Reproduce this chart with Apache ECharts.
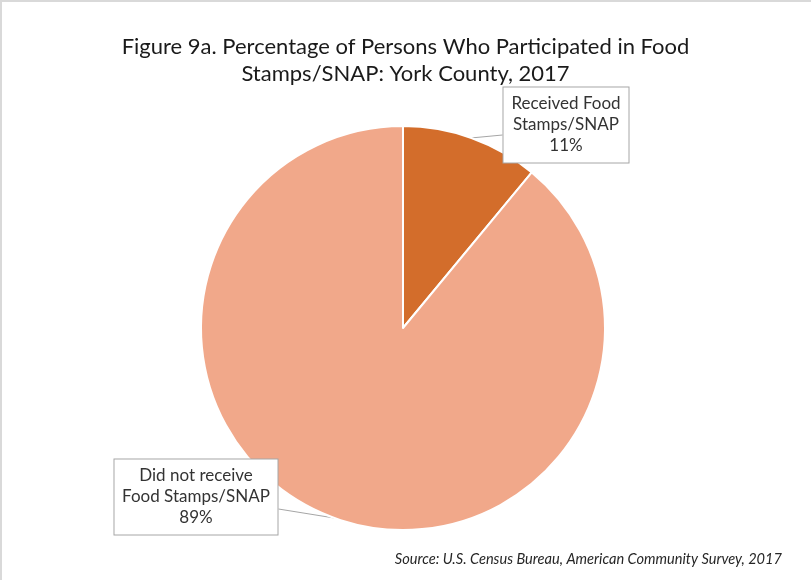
<!DOCTYPE html>
<html>
<head>
<meta charset="utf-8">
<script src="https://cdn.jsdelivr.net/npm/echarts@6/dist/echarts.min.js"></script>
<style>
html,body{margin:0;padding:0;background:#fff;}
#chart{width:811px;height:580px;}
</style>
</head>
<body>
<div id="chart"></div>
<script>
const categories = ['Received Food\nStamps/SNAP', 'Did not receive\nFood Stamps/SNAP'];
const values = [11, 89];
const sliceColors = ['#D36D2B', '#F1A88A'];
const titleText = 'Figure 9a. Percentage of Persons Who Participated in Food\nStamps/SNAP: York County, 2017';
const sourceText = 'Source: U.S. Census Bureau, American Community Survey, 2017';

// label box placement (layout only)
const labelSpots = [
  {x: 566, y: 125, w: 115, side: -1, dy: 10},
  {x: 196, y: 497, w: 153, side: 1, dy: 12}
];

const chart = echarts.init(document.getElementById('chart'), null, {renderer: 'canvas'});
const FONT = 'Lato';

const option = {
  backgroundColor: '#fff',
  animation: false,
  title: {
    text: titleText,
    left: 'center',
    top: 28,
    textStyle: {fontFamily: FONT, fontSize: 22, fontWeight: 'normal', color: '#1a1a1a', lineHeight: 27}
  },
  graphic: [
    {type: 'polyline', shape: {points: [[1, 580], [1, 1], [811, 1]]}, style: {stroke: '#d9d9d9', lineWidth: 2, fill: null}},
    {type: 'text', right: 29, top: 552, style: {text: sourceText, fontFamily: FONT, fontStyle: 'italic', fontSize: 14.6, fill: '#262626'}}
  ],
  series: [{
    type: 'pie',
    center: [403, 328],
    radius: [0, 202],
    startAngle: 90,
    clockwise: true,
    silent: true,
    itemStyle: {borderColor: '#fff', borderWidth: 2},
    label: {
      show: true,
      formatter: '{b}\n{c}%',
      fontFamily: FONT,
      fontSize: 17,
      lineHeight: 21,
      color: '#333333',
      backgroundColor: '#fff',
      borderColor: '#a6a6a6',
      borderWidth: 1,
      padding: [6, 5],
      align: 'center'
    },
    labelLine: {show: true, length: 10, length2: 10, lineStyle: {color: '#a6a6a6', width: 1}},
    labelLayout: function (p) {
      const s = labelSpots[p.dataIndex];
      const out = {x: s.x, y: s.y, align: 'center', verticalAlign: 'middle'};
      if (p.labelLinePoints && p.labelLinePoints[0]) {
        const half = (s.w + 12) / 2;
        out.labelLinePoints = [p.labelLinePoints[0], [s.x + s.side * half, s.y + s.dy]];
      }
      return out;
    },
    data: categories.map((c, i) => ({
      name: c, value: values[i],
      itemStyle: {color: sliceColors[i]},
      label: {width: labelSpots[i].w}
    }))
  }]
};
chart.setOption(option);
</script>
</body>
</html>
